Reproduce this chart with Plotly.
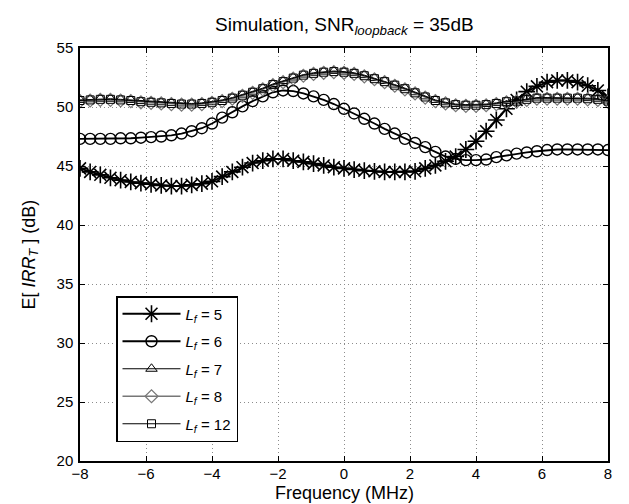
import plotly.graph_objects as go

# Frequency grid (MHz)
freq = [-8.0, -7.6923, -7.3846, -7.0769, -6.7692, -6.4615, -6.1538, -5.8462, -5.5385,
        -5.2308, -4.9231, -4.6154, -4.3077, -4.0, -3.6923, -3.3846, -3.0769, -2.7692,
        -2.4615, -2.1538, -1.8462, -1.5385, -1.2308, -0.9231, -0.6154, -0.3077, 0.0,
        0.3077, 0.6154, 0.9231, 1.2308, 1.5385, 1.8462, 2.1538, 2.4615, 2.7692, 3.0769,
        3.3846, 3.6923, 4.0, 4.3077, 4.6154, 4.9231, 5.2308, 5.5385, 5.8462, 6.1538,
        6.4615, 6.7692, 7.0769, 7.3846, 7.6923, 8.0]

irr_lf5 = [44.8, 44.5, 44.25, 44.0, 43.8, 43.65, 43.55, 43.45, 43.35, 43.3, 43.3, 43.4, 43.5,
           43.7, 44.1, 44.5, 44.9, 45.25, 45.45, 45.6, 45.6, 45.45, 45.35, 45.2, 45.05, 44.9,
           44.8, 44.7, 44.6, 44.55, 44.5, 44.5, 44.5, 44.55, 44.8, 45.05, 45.4, 45.8, 46.4, 47.1,
           47.95, 48.9, 49.85, 50.6, 51.3, 51.75, 52.1, 52.25, 52.25, 52.1, 51.8, 51.4, 50.85]

irr_lf6 = [47.3, 47.3, 47.3, 47.3, 47.35, 47.35, 47.4, 47.45, 47.5, 47.6, 47.75, 47.95,
           48.2, 48.6, 49.1, 49.55, 50.05, 50.5, 50.9, 51.25, 51.4, 51.35, 51.15, 50.9, 50.6, 50.25,
           49.85, 49.45, 49.0, 48.6, 48.15, 47.75, 47.3, 46.95, 46.6, 46.2, 45.8, 45.6, 45.5, 45.5,
           45.55, 45.75, 45.9, 46.05, 46.15, 46.25, 46.35, 46.4, 46.4, 46.4, 46.4, 46.4, 46.35]

irr_lf7 = [50.6, 50.65, 50.7, 50.7, 50.65, 50.6, 50.5, 50.45, 50.4, 50.35, 50.3, 50.3, 50.35,
           50.45, 50.6, 50.8, 51.05, 51.3, 51.6, 51.95, 52.2, 52.5, 52.75, 52.9, 53.0, 53.05,
           53.0, 52.9, 52.7, 52.45, 52.2, 51.9, 51.6, 51.25, 50.9, 50.6, 50.4, 50.25, 50.2, 50.2,
           50.25, 50.35, 50.5, 50.55, 50.7, 50.8, 50.8, 50.8, 50.8, 50.8, 50.75, 50.7, 50.55]

irr_lf8 = [50.5, 50.55, 50.6, 50.6, 50.55, 50.5, 50.4, 50.35, 50.3, 50.25, 50.2, 50.2, 50.25,
           50.35, 50.5, 50.7, 50.95, 51.2, 51.5, 51.85, 52.1, 52.4, 52.65, 52.8, 52.9, 52.95,
           52.9, 52.8, 52.6, 52.35, 52.1, 51.8, 51.5, 51.15, 50.8, 50.5, 50.3, 50.15, 50.1, 50.1,
           50.15, 50.25, 50.4, 50.45, 50.6, 50.7, 50.7, 50.7, 50.7, 50.7, 50.65, 50.6, 50.45]

irr_lf12 = [50.55, 50.6, 50.65, 50.65, 50.6, 50.55, 50.45, 50.4, 50.35, 50.3, 50.25, 50.25, 50.3,
            50.4, 50.55, 50.75, 51.0, 51.25, 51.55, 51.9, 52.15, 52.45, 52.7, 52.85, 52.95, 53.0,
            52.95, 52.85, 52.65, 52.4, 52.15, 51.85, 51.55, 51.2, 50.85, 50.55, 50.35, 50.2, 50.15, 50.15,
            50.2, 50.3, 50.45, 50.5, 50.65, 50.75, 50.75, 50.75, 50.75, 50.75, 50.7, 50.65, 50.5]

series = [
    ("<i>L<sub>f</sub></i> = 5", irr_lf5),
    ("<i>L<sub>f</sub></i> = 6", irr_lf6),
    ("<i>L<sub>f</sub></i> = 7", irr_lf7),
    ("<i>L<sub>f</sub></i> = 8", irr_lf8),
    ("<i>L<sub>f</sub></i> = 12", irr_lf12),
]

styles = [
    dict(color="black", lw=2.0, symbol="asterisk-open", size=14, mlw=1.6),
    dict(color="black", lw=1.8, symbol="circle-open", size=11, mlw=1.4),
    dict(color="black", lw=1.0, symbol="triangle-up-open", size=10, mlw=1.0),
    dict(color="#777777", lw=1.5, symbol="diamond-open", size=10, mlw=1.2),
    dict(color="black", lw=1.0, symbol="square-open", size=8, mlw=1.0),
]

FONT = "Liberation Sans, Arial, Helvetica, sans-serif"

fig = go.Figure()
for (name, vals), st in zip(series, styles):
    fig.add_trace(go.Scatter(
        x=freq, y=vals, name=name, mode="lines+markers", legendgroup=name,
        line=dict(color=st["color"], width=st["lw"]),
        marker=dict(symbol=st["symbol"], size=st["size"], color=st["color"],
                    line=dict(color=st["color"], width=st["mlw"])),
    ))

axis_common = dict(
    showline=True, linecolor="black", linewidth=1.5, mirror="ticks",
    ticks="inside", ticklen=5, tickcolor="black", tickwidth=1,
    showgrid=True, gridcolor="#8c8c8c", gridwidth=1, griddash="1px,3px",
    zeroline=False, tickfont=dict(family=FONT, size=15, color="black"),
)

fig.update_layout(
    width=629, height=504,
    margin=dict(l=72, r=29, t=40, b=51),
    paper_bgcolor="white", plot_bgcolor="white",
    font=dict(family=FONT, color="black"),
    xaxis=dict(range=[-8, 8], dtick=2, ticklabelstandoff=-2, **axis_common),
    yaxis=dict(range=[20, 55], dtick=5, ticklabelstandoff=2, **axis_common),
    showlegend=True,
    legend=dict(x=(108 - 72) / 528, y=(453 - 288) / 413, xanchor="left", yanchor="top",
                bordercolor="black", borderwidth=1.5, bgcolor="white",
                font=dict(family=FONT, size=15, color="black"),
                itemwidth=58, tracegroupgap=5, traceorder="grouped"),
    annotations=[
        dict(text="Simulation, SNR<sub><i>loopback</i></sub> = 35dB", xref="paper", yref="paper",
             x=0.5, y=1, yshift=22, xanchor="center", yanchor="middle", showarrow=False,
             font=dict(family=FONT, size=19)),
        dict(text="Frequency (MHz)", xref="paper", yref="paper", x=0.5, y=0, yshift=-32,
             xanchor="center", yanchor="middle", showarrow=False, font=dict(family=FONT, size=18)),
        dict(text="E[ <i>IRR<sub>T</sub></i> ] (dB)", xref="paper", yref="paper", x=0, y=0.5,
             xshift=-50, xanchor="center", yanchor="middle", textangle=-90, showarrow=False,
             font=dict(family=FONT, size=18)),
    ],
)

fig.write_html("out.html")
